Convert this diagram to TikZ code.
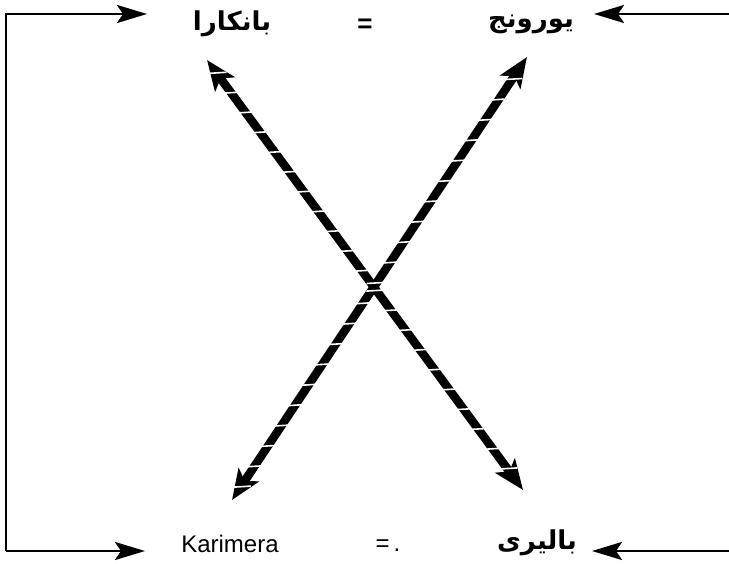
\documentclass[tikz,border=0pt]{standalone}
\usepackage{fontspec}
\setmainfont{Liberation Sans}
\newfontfamily\arabicfont[Script=Arabic]{DejaVu Sans}
\TeXXeTstate=1
\usepackage{tikz}
\usetikzlibrary{arrows.meta,calc}

\begin{document}
\begin{tikzpicture}[
  x=1pt, y=-1pt,
  word/.style={inner sep=0pt, font=\fontsize{24}{28}\selectfont},
  arword/.style={inner sep=0pt, font=\fontsize{26}{30}\selectfont\arabicfont\bfseries},
  link/.style={-{Stealth[length=30pt,width=18pt,inset=6pt]}, line width=2.8pt},
  cross/.style={{Stealth[length=30pt,width=24pt,inset=7pt]}-{Stealth[length=30pt,width=24pt,inset=7pt]},
                line width=8.5pt},
  slash/.style={draw=white, line width=1.6pt},
]
  \useasboundingbox (0,0) rectangle (729,564);

  % Word pairs, top and bottom.
  \node[arword] (bankara) at (232,24) {\beginR بانکارا\endR};
  \node[word, font=\fontsize{26}{30}\selectfont\bfseries] (eq-top) at (365,26) {=};
  \node[arword] (yoronj) at (531,24) {\beginR یورونج\endR};
  \node[word] (karimera) at (230,544) {Karimera};
  \node[word] (eq-bot) at (388,546) {=\,.};
  \node[arword] (baliri) at (537,543) {\beginR بالیری\endR};

  % Bracket on the left, feeds from the right edge.
  \coordinate (left-top) at (147,14);
  \coordinate (left-bot) at (145,551);
  \coordinate (right-top) at (594,14);
  \coordinate (right-bot) at (592,551);
  \draw[link] (6,551) -- (6,14) -- (left-top);
  \draw[link] (6,551) -- (left-bot);
  \draw[link] (729,14) -- (right-top);
  \draw[link] (729,551) -- (right-bot);

  % Crossed double arrows.
  \coordinate (x1-a) at (207,60);
  \coordinate (x1-b) at (523,490);
  \coordinate (x2-a) at (232,500);
  \coordinate (x2-b) at (527,57);
  \draw[cross] (x1-a) -- (x1-b);
  \draw[cross] (x2-a) -- (x2-b);
  \foreach \t in {0.03,0.076,...,0.99} {
    \draw[slash] ($(x1-a)!\t!(x1-b)$) +(-10,0.6) -- +(10,-0.6);
    \draw[slash] ($(x2-a)!\t!(x2-b)$) +(-10,0.6) -- +(10,-0.6);
  }
\end{tikzpicture}
\end{document}
